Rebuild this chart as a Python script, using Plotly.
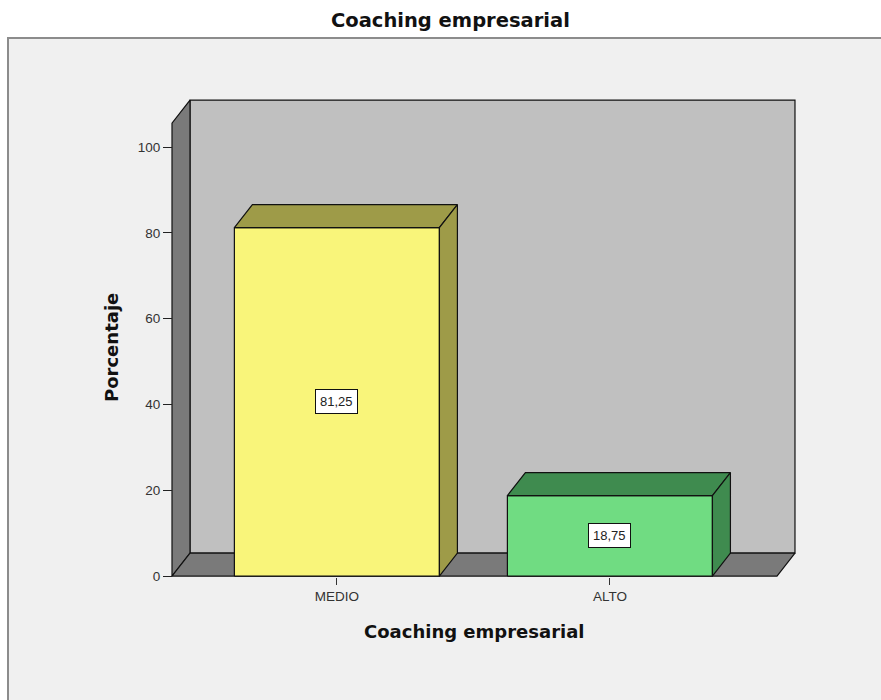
import plotly.graph_objects as go

# ---- data ----
categories = ["MEDIO", "ALTO"]
percentages = [81.25, 18.75]
value_labels = ["81,25", "18,75"]
y_ticks = [0, 20, 40, 60, 80, 100]

# ---- page / scale setup ----
W, H = 881, 700
X_RANGE = [-1.234, 1.993]      # category index units across the whole page
Y_RANGE = [-28.9, 134.3]       # percent units across the whole page
PX_X = W / (X_RANGE[1] - X_RANGE[0])
PX_Y = H / (Y_RANGE[1] - Y_RANGE[0])

# pseudo-3D depth offset (converted from pixels to data units)
DX = 18 / PX_X
DY = 23 / PX_Y

WALL_LO, WALL_HI, WALL_TOP = -0.604, 1.612, 105.6
HALF_W = 0.3755

WALL_BACK = "#c0c0c0"
WALL_SIDE = "#7a7a7a"
BAR_COLORS = [("#f9f57a", "#9e9b48"), ("#70dc82", "#3f8b4f")]

fig = go.Figure()


def face(xs, ys, fill):
    fig.add_trace(go.Scatter(
        x=xs + [xs[0]], y=ys + [ys[0]], mode="lines", fill="toself",
        fillcolor=fill, line=dict(color="#111111", width=1.2),
        hoverinfo="skip", showlegend=False))


# chart walls
face([WALL_LO + DX, WALL_HI + DX, WALL_HI + DX, WALL_LO + DX],
     [DY, DY, WALL_TOP + DY, WALL_TOP + DY], WALL_BACK)
face([WALL_LO, WALL_LO + DX, WALL_LO + DX, WALL_LO],
     [0, DY, WALL_TOP + DY, WALL_TOP], WALL_SIDE)
face([WALL_LO, WALL_HI, WALL_HI + DX, WALL_LO + DX],
     [0, 0, DY, DY], WALL_SIDE)

# 3D bars
for i, (v, (front, shade)) in enumerate(zip(percentages, BAR_COLORS)):
    l, r = i - HALF_W, i + HALF_W
    face([l, r, r, l], [0, 0, v, v], front)
    face([l, r, r + DX, l + DX], [v, v, v + DY, v + DY], shade)
    face([r, r + DX, r + DX, r], [0, DY, v + DY, v], shade)

annotations = []
for i, (v, txt) in enumerate(zip(percentages, value_labels)):
    annotations.append(dict(
        x=i, y=v / 2, xref="x", yref="y", text=txt, showarrow=False,
        bgcolor="white", bordercolor="#111111", borderwidth=1, borderpad=4,
        font=dict(family="Liberation Sans, Arial", size=13, color="#222222")))


def bold(size):
    return dict(family="DejaVu Sans, Arial", size=size, color="#111111")


annotations += [
    dict(x=450 / W, y=1 - 20 / H, xref="paper", yref="paper",
         xanchor="center", yanchor="middle",
         text="<b>Coaching empresarial</b>", showarrow=False, font=bold(19.5)),
    dict(x=475 / W, y=1 - 631 / H, xref="paper", yref="paper",
         xanchor="center", yanchor="middle",
         text="<b>Coaching empresarial</b>", showarrow=False, font=bold(18)),
    dict(x=111 / W, y=1 - 348 / H, xref="paper", yref="paper",
         xanchor="center", yanchor="middle",
         text="<b>Porcentaje</b>", showarrow=False, textangle=-90,
         font=bold(18)),
]

tick_font = dict(family="Liberation Sans, Arial", size=13.5, color="#333333")

fig.update_layout(
    width=W, height=H,
    margin=dict(l=0, r=0, t=0, b=0),
    paper_bgcolor="white", plot_bgcolor="rgba(0,0,0,0)",
    showlegend=False,
    annotations=annotations,
    shapes=[dict(type="rect", xref="paper", yref="paper", layer="below",
                 x0=8 / W, x1=1.02, y0=-0.02, y1=1 - 38 / H,
                 fillcolor="#f0f0f0", line=dict(color="#8c8c8c", width=2))],
    xaxis=dict(range=X_RANGE, anchor="free", position=1 - 577 / H,
               tickvals=[0, 1], ticktext=categories, ticks="outside",
               ticklen=7, tickcolor="#333333", showline=False,
               showgrid=False, zeroline=False, fixedrange=True,
               tickfont=tick_font),
    yaxis=dict(range=Y_RANGE, anchor="free", position=172 / W,
               tickvals=y_ticks, ticks="outside", ticklen=9,
               tickcolor="#222222", showline=False, showgrid=False,
               zeroline=False, fixedrange=True, tickfont=tick_font),
)

fig.write_html("out.html")
